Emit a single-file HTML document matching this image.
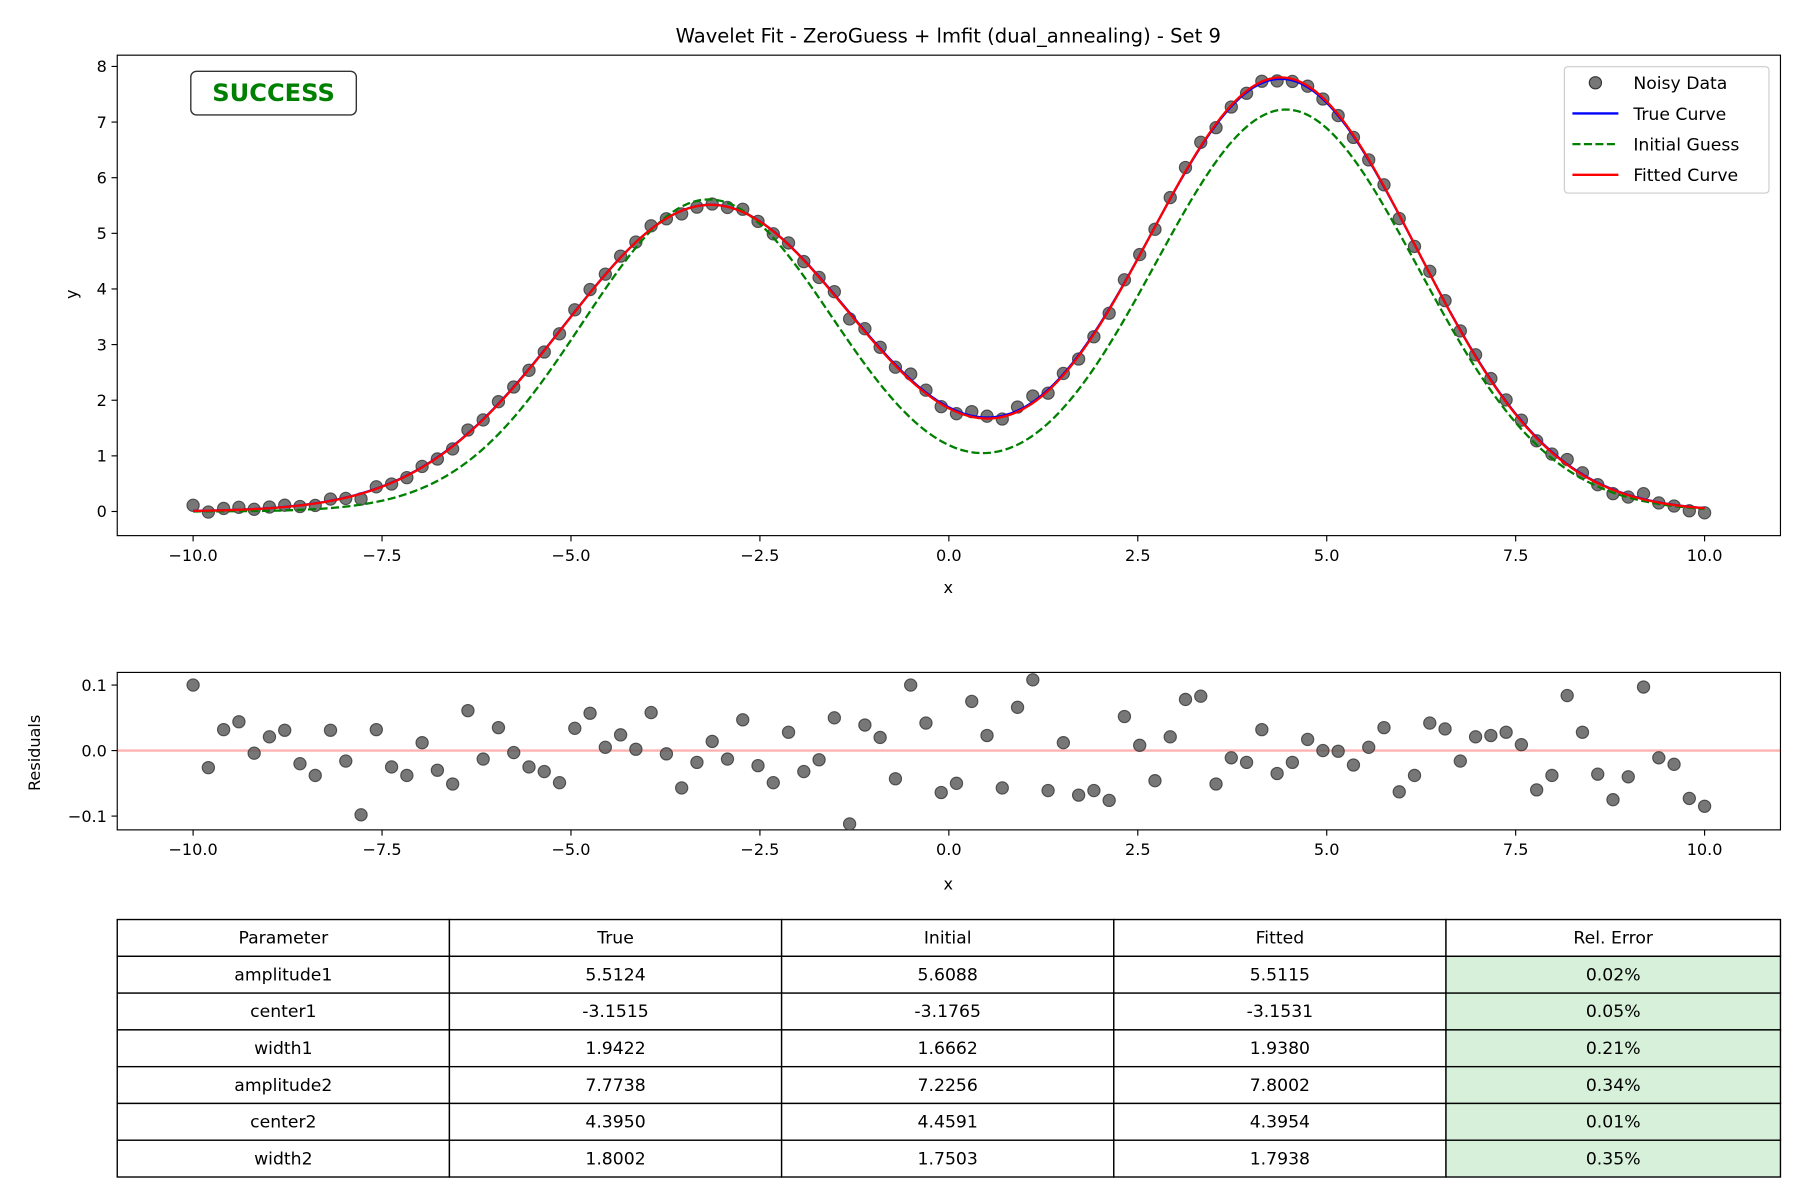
<!DOCTYPE html>
<html><head><meta charset="utf-8"><style>
html,body{margin:0;padding:0;background:#fff}
svg{display:block;font-family:"DejaVu Sans","Liberation Sans",sans-serif}
</style></head><body>
<svg id="fig" width="1800" height="1200" viewBox="0 0 1566 1044" xmlns="http://www.w3.org/2000/svg">
<rect width="1566" height="1044" fill="#fff"/>
<text x="825" y="37" font-size="17" text-anchor="middle">Wavelet Fit - ZeroGuess + lmfit (dual_annealing) - Set 9</text>
<g id="main"></g>
<g id="resid"></g>
<g id="table"></g>
</svg>
<script>
const paramNames = ["amplitude1","center1","width1","amplitude2","center2","width2"];
const trueParams = [5.5124,-3.1515,1.9422,7.7738,4.3950,1.8002];
const initParams = [5.6088,-3.1765,1.6662,7.2256,4.4591,1.7503];
const fitParams = [5.5115,-3.1531,1.9380,7.8002,4.3954,1.7938];
const relErrors = ["0.02%","0.05%","0.21%","0.34%","0.01%","0.35%"];
const xTicks = [-10,-7.5,-5,-2.5,0,2.5,5,7.5,10];
const yTicks = [0,1,2,3,4,5,6,7,8];
const rTicks = [-0.1,0,0.1];
const residuals = [0.100,-0.026,0.032,0.044,-0.004,0.021,0.031,-0.020,-0.038,0.031,
-0.016,-0.098,0.032,-0.025,-0.038,0.012,-0.030,-0.051,0.061,-0.013,
0.035,-0.003,-0.025,-0.032,-0.049,0.034,0.057,0.005,0.024,0.002,
0.058,-0.005,-0.057,-0.018,0.014,-0.013,0.047,-0.023,-0.049,0.028,
-0.032,-0.014,0.050,-0.112,0.039,0.020,-0.043,0.100,0.042,-0.064,
-0.050,0.075,0.023,-0.057,0.066,0.108,-0.061,0.012,-0.068,-0.061,
-0.076,0.052,0.008,-0.046,0.021,0.078,0.083,-0.051,-0.011,-0.018,
0.032,-0.035,-0.018,0.017,0.000,-0.001,-0.022,0.005,0.035,-0.063,
-0.038,0.042,0.033,-0.016,0.021,0.023,0.028,0.009,-0.060,-0.038,
0.084,0.028,-0.036,-0.075,-0.040,0.097,-0.011,-0.021,-0.073,-0.085];

const NS="http://www.w3.org/2000/svg";
function mk(tag,attrs,parent,text){const e=document.createElementNS(NS,tag);for(const k in attrs)e.setAttribute(k,attrs[k]);if(text!==undefined)e.textContent=text;parent.appendChild(e);return e;}
function model(p,x){return p[0]*Math.exp(-((x-p[1])**2)/(2*p[2]*p[2]))+p[3]*Math.exp(-((x-p[4])**2)/(2*p[5]*p[5]));}
const sx=x=>168+(x+10)*65.75;
const sy=y=>445-y*48.4;
const ry=r=>653-r*570;
const N=residuals.length;
const xs=residuals.map((_,i)=>-10+20*i/(N-1));
function fmt(v,d){const s=v.toFixed(d);return v<0?"\u2212"+s.slice(1):s;}

// main plot
const main=document.getElementById('main');
mk('rect',{x:102,y:48,width:1447,height:418,fill:'none',stroke:'#000','stroke-width':1},main);
xTicks.forEach(t=>{
 const g=mk('g',{},main);
 
 
 mk('line',{x1:sx(t),x2:sx(t),y1:466,y2:471,stroke:'#000'},g);
 mk('text',{x:sx(t),y:488,'font-size':14,'text-anchor':'middle'},g,fmt(t,1));
});
yTicks.forEach(t=>{
 const g=mk('g',{},main);
 
 
 mk('line',{x1:97,x2:102,y1:sy(t),y2:sy(t),stroke:'#000'},g);
 mk('text',{x:93,y:sy(t)+5,'font-size':14,'text-anchor':'end'},g,String(t));
});
const xl=mk('text',{x:825,y:516,'font-size':14,'text-anchor':'middle'},main,'x');

const yl=mk('text',{x:67,y:256,'font-size':14,'text-anchor':'middle',transform:'rotate(-90 67 256)'},main,'y');


xs.forEach((x,i)=>{
 const c=mk('circle',{cx:sx(x),cy:sy(model(trueParams,x)+residuals[i]),r:5.3,fill:'#555','fill-opacity':0.8,stroke:'#333','stroke-opacity':0.8},main);
 
 
});
function curve(p,color,dash,name){
 let d='';for(let k=0;k<=400;k++){const x=-10+20*k/400;d+=(k?'L':'M')+sx(x).toFixed(2)+','+sy(model(p,x)).toFixed(2);}
 const e=mk('path',{d:d,fill:'none',stroke:color,'stroke-width':2,'stroke-dasharray':dash||'none'},main);
 
 
}
curve(trueParams,'#0000ff',null,'true-curve');
curve(initParams,'#008000','7,3','initial-guess-curve');
curve(fitParams,'#ff0000',null,'fitted-curve');

const sb=mk('g',{},main);

mk('rect',{x:166,y:62,width:144,height:38,rx:5,fill:'#fff',stroke:'#333','stroke-width':1.2},sb);
mk('text',{x:238,y:88,'font-size':21,'font-weight':'bold',fill:'#008000','text-anchor':'middle'},sb,'SUCCESS');

const lg=mk('g',{},main);

mk('rect',{x:1361,y:58,width:178,height:110,rx:3,fill:'#fff','fill-opacity':0.8,stroke:'#ccc'},lg);
const le=[['Noisy Data','pt'],['True Curve','#0000ff'],['Initial Guess','#008000'],['Fitted Curve','#ff0000']];
le.forEach((e,i)=>{
 const y=72+i*26.7;
 const g=mk('g',{},lg);
 
 if(e[1]==='pt')mk('circle',{cx:1388,cy:y,r:5.3,fill:'#555','fill-opacity':0.8,stroke:'#333'},g);
 else mk('line',{x1:1368,x2:1408,y1:y,y2:y,stroke:e[1],'stroke-width':2,'stroke-dasharray':i===2?'7,3':'none'},g);
 mk('text',{x:1421,y:y+5.5,'font-size':15},g,e[0]);
});

// residual plot
const rs=document.getElementById('resid');
mk('rect',{x:102,y:585,width:1447,height:137,fill:'none',stroke:'#000'},rs);
const zl=mk('line',{x1:102,x2:1549,y1:ry(0),y2:ry(0),stroke:'#ff0000','stroke-opacity':0.3,'stroke-width':2},rs);

xTicks.forEach(t=>{
 const g=mk('g',{},rs);
 
 mk('line',{x1:sx(t),x2:sx(t),y1:722,y2:727,stroke:'#000'},g);
 mk('text',{x:sx(t),y:744,'font-size':14,'text-anchor':'middle'},g,fmt(t,1));
});
rTicks.forEach(t=>{
 const g=mk('g',{},rs);
 
 mk('line',{x1:97,x2:102,y1:ry(t),y2:ry(t),stroke:'#000'},g);
 mk('text',{x:93,y:ry(t)+5,'font-size':14,'text-anchor':'end'},g,fmt(t,1));
});
const rxl=mk('text',{x:825,y:774,'font-size':14,'text-anchor':'middle'},rs,'x');

const ryl=mk('text',{x:35,y:655,'font-size':14,'text-anchor':'middle',transform:'rotate(-90 35 655)'},rs,'Residuals');

xs.forEach((x,i)=>{
 const c=mk('circle',{cx:sx(x),cy:ry(residuals[i]),r:5.3,fill:'#555','fill-opacity':0.8,stroke:'#333','stroke-opacity':0.8},rs);
 
 
});

// table
const tb=document.getElementById('table');
const cols=[102,391,680,969,1258,1549];
const rowH=32,tableTop=800;
const header=["Parameter","True","Initial","Fitted","Rel. Error"];
const rows=[header].concat(paramNames.map((n,i)=>[n,trueParams[i].toFixed(4),initParams[i].toFixed(4),fitParams[i].toFixed(4),relErrors[i]]));
rows.forEach((r,ri)=>{
 const g=mk('g',{},tb);
 
 
 r.forEach((v,ci)=>{
  const y=tableTop+ri*rowH;
  mk('rect',{x:cols[ci],y:y,width:cols[ci+1]-cols[ci],height:rowH,fill:(ci===4&&ri>0)?'#d6f0d9':'#fff',stroke:'#000','stroke-width':1.2},g);
  mk('text',{x:(cols[ci]+cols[ci+1])/2,y:y+21,'font-size':15,'text-anchor':'middle'},g,v);
 });
});
</script>
</body></html>
